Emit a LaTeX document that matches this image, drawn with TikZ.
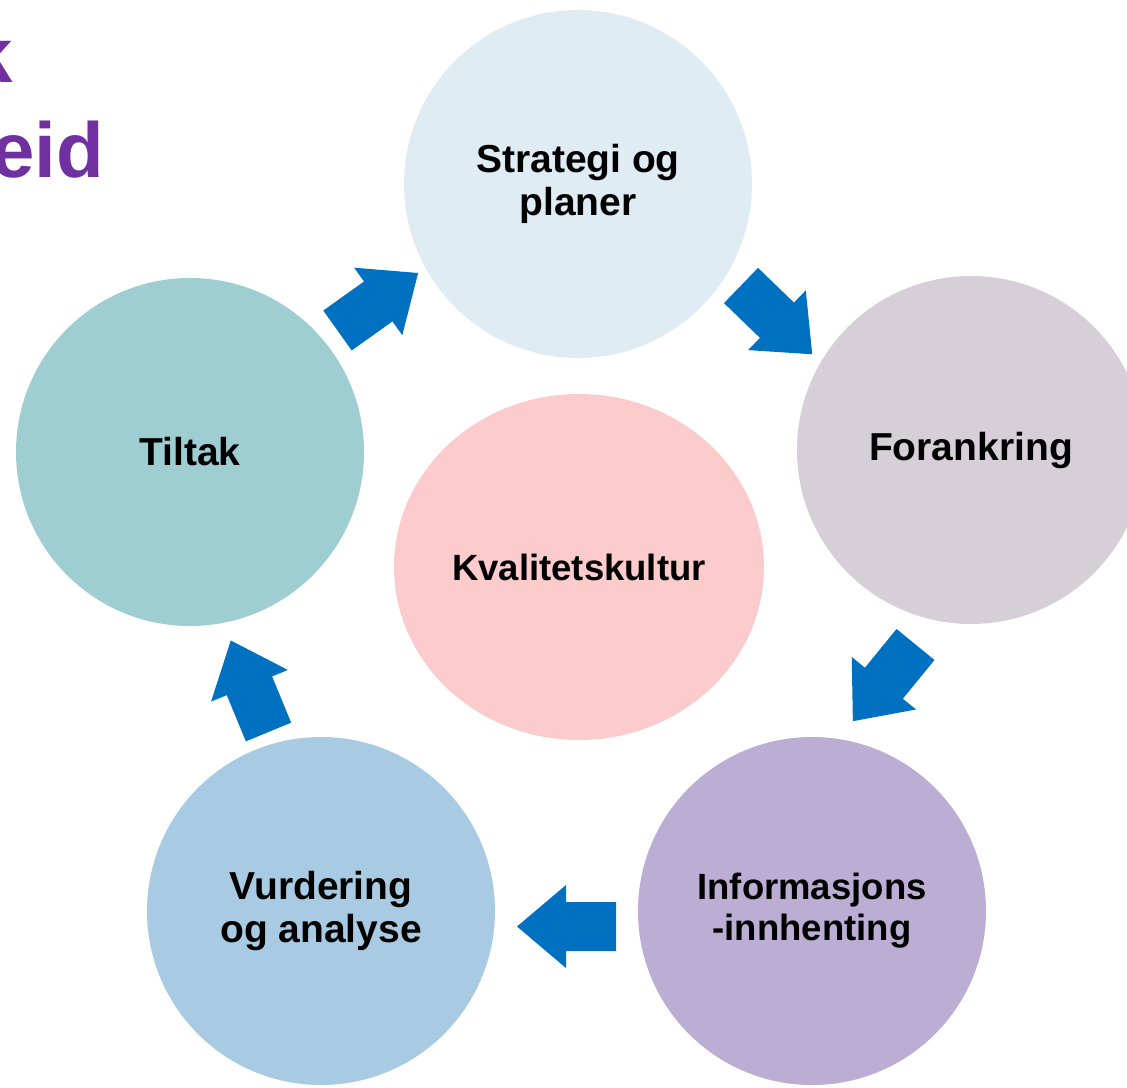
\documentclass[tikz,border=0pt]{standalone}
\usepackage{fontspec}
\setmainfont{Liberation Sans}
\usetikzlibrary{shapes.geometric}
\definecolor{cStrat}{HTML}{DFECF4}
\definecolor{cForank}{HTML}{D6CFD8}
\definecolor{cInfo}{HTML}{BBADD3}
\definecolor{cVurd}{HTML}{A8CAE2}
\definecolor{cTilt}{HTML}{9ECED1}
\definecolor{cKval}{HTML}{FCCBCB}
\definecolor{cArrow}{HTML}{0070C0}
\definecolor{cTitle}{HTML}{7030A0}
\begin{document}
\begin{tikzpicture}[x=1pt,y=-1pt,
  phase/.style={circle,minimum size=348pt,inner sep=0pt,align=center,
    font=\bfseries\fontsize{39}{43}\selectfont,text=black},
  smalltext/.style={font=\bfseries\fontsize{36.5}{41}\selectfont},
  titletext/.style={inner sep=0pt,anchor=base east,text=cTitle,
    font=\bfseries\fontsize{78}{90}\selectfont},
  blockarrow/.style={fill=cArrow}]
\useasboundingbox (0,0) rectangle (1127,1087);
\clip (0,0) rectangle (1127,1087);
% title (cut off at the left edge)
\node[titletext] (t1) at (13,82) {k};
\node[titletext] (t2) at (104,177) {eid};
% circles
\node[phase,fill=cStrat] (strat) at (578,184) {Strategi og\\planer};
\node[phase,fill=cForank] (forank) at (971,450) {Forankring};
\node[phase,fill=cInfo,smalltext] (info) at (812,911) {Informasjons\\-innhenting};
\node[phase,fill=cVurd] (vurd) at (321,911) {Vurdering\\og analyse};
\node[phase,fill=cTilt] (tilt) at (190,452) {Tiltak};
\node[ellipse,minimum width=370pt,minimum height=346pt,inner sep=0pt,fill=cKval,
  smalltext] (kval) at (579,567) {Kvalitetskultur};
% block arrows
\foreach \px/\py/\ang in {337.5/330.5/35.5, 741/285.5/-44, 915.5/644.5/-129.25,
    616/926.5/180, 268.5/732/112.4}{
  \fill[blockarrow,shift={(\px,\py)},rotate=\ang]
    (0,-24.5) -- (50,-24.5) -- (50,-41.5) -- (99,0) -- (50,41.5) -- (50,24.5)
    -- (0,24.5) -- cycle;
}
\end{tikzpicture}
\end{document}
